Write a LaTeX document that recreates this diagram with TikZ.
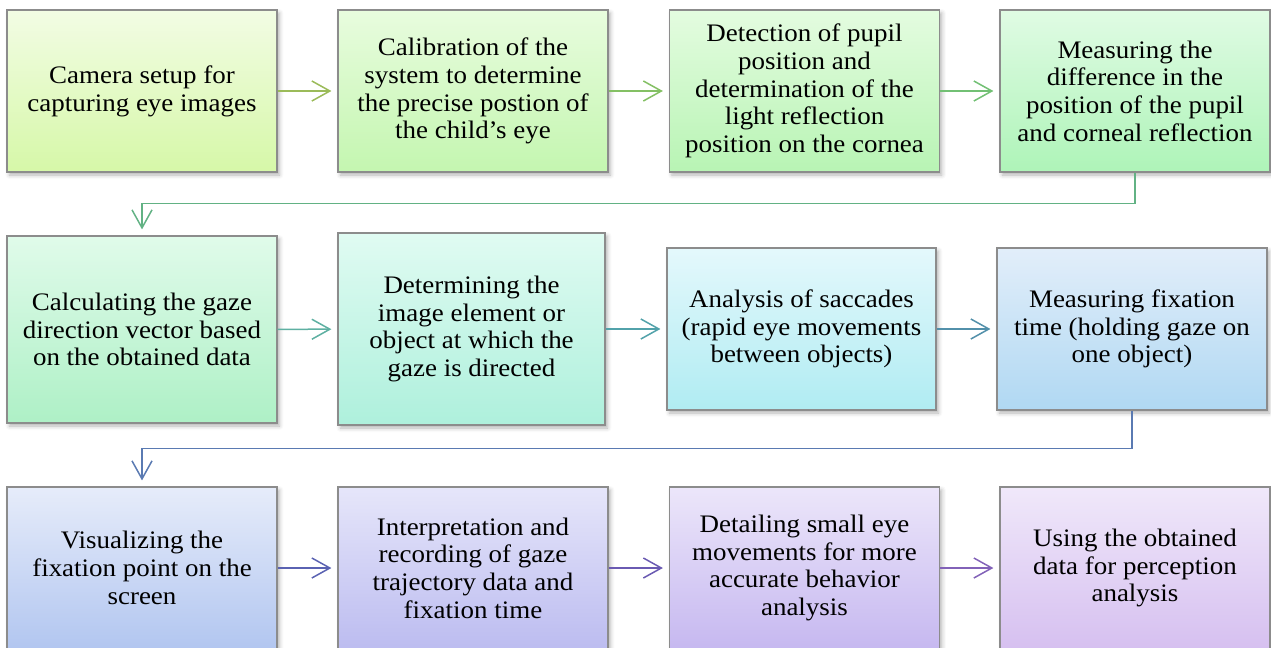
\documentclass[tikz,border=0pt]{standalone}
\usepackage{fontspec}
\setmainfont{Liberation Serif}[FakeStretch=1.07]
\usetikzlibrary{arrows.meta, shadows.blur}

\definecolor{boxline}{HTML}{8C8C8C}
% box gradients, top and bottom
\definecolor{aT}{HTML}{F2FCE4} \definecolor{aB}{HTML}{D6F8A8}
\definecolor{bT}{HTML}{E8FCDE} \definecolor{bB}{HTML}{C4F6B0}
\definecolor{cT}{HTML}{E4FCE0} \definecolor{cB}{HTML}{B8F4B4}
\definecolor{dT}{HTML}{E0FBE4} \definecolor{dB}{HTML}{AEF4B8}
\definecolor{eT}{HTML}{E0FBEA} \definecolor{eB}{HTML}{AEF0C6}
\definecolor{fT}{HTML}{E0FBF2} \definecolor{fB}{HTML}{AEF0DC}
\definecolor{gT}{HTML}{E4F8FC} \definecolor{gB}{HTML}{B0ECF2}
\definecolor{hT}{HTML}{E2EEFA} \definecolor{hB}{HTML}{B0D8F2}
\definecolor{iT}{HTML}{E6ECFA} \definecolor{iB}{HTML}{B2C6F0}
\definecolor{jT}{HTML}{E6E6FA} \definecolor{jB}{HTML}{BCBCF0}
\definecolor{kT}{HTML}{ECE6FA} \definecolor{kB}{HTML}{C6B8F0}
\definecolor{lT}{HTML}{F0E8FA} \definecolor{lB}{HTML}{D6C0F0}
% connector colours
\definecolor{arA}{HTML}{9BBB59} \definecolor{arB}{HTML}{84C064}
\definecolor{arC}{HTML}{72C074} \definecolor{arD}{HTML}{62B284}
\definecolor{arE}{HTML}{5EB0A2} \definecolor{arF}{HTML}{52A2AA}
\definecolor{arG}{HTML}{5290AA} \definecolor{arH}{HTML}{5A7AB2}
\definecolor{arI}{HTML}{5A62B2} \definecolor{arJ}{HTML}{6A5AB2}
\definecolor{arK}{HTML}{8262B8}

\tikzset{
  procbox/.style 2 args={draw=boxline, line width=0.6pt, top color=#1, bottom color=#2,
    minimum width=135pt, minimum height=81pt, inner sep=0pt, align=center,
    font=\fontsize{12.6}{13.85}\selectfont,
    blur shadow={shadow xshift=1.2pt, shadow yshift=-1.5pt, shadow blur radius=2pt, shadow opacity=30}},
  flow/.style={->, line width=0.75pt, shorten >=3pt}
}

\begin{document}
\begin{tikzpicture}[x=0.5pt, y=-0.5pt, >={Straight Barb[length=9pt,width=10pt]}]
    \useasboundingbox (0,0) rectangle (1271,648);
    % first row
    \node (b1) at (142,91) [procbox={aT}{aB}] {Camera setup for\\capturing eye images};
    \node (b2) at (473,91) [procbox={bT}{bB}] {Calibration of the\\system to determine\\the precise postion of\\the child's eye};
    \node (b3) at (804.5,91) [procbox={cT}{cB}] {Detection of pupil\\position and\\determination of the\\light reflection\\position on the cornea};
    \node (b4) at (1135,91) [procbox={dT}{dB}] {Measuring the\\difference in the\\position of the pupil\\and corneal reflection};
    % second row
    \node (b5) at (142,329.5) [procbox={eT}{eB}, minimum height=93.5pt] {Calculating the gaze\\direction vector based\\on the obtained data};
    \node (b6) at (471.5,329) [procbox={fT}{fB}, minimum width=133.5pt, minimum height=96pt] {Determining the\\image element or\\object at which the\\gaze is directed};
    \node (b7) at (801.5,329) [procbox={gT}{gB}, minimum width=134.5pt] {Analysis of saccades\\(rapid eye movements\\between objects)};
    \node (b8) at (1132,329) [procbox={hT}{hB}] {Measuring fixation\\time (holding gaze on\\one object)};
    % third row
    \node (b9) at (142,568) [procbox={iT}{iB}] {Visualizing the\\fixation point on the\\screen};
    \node (b10) at (473,568) [procbox={jT}{jB}] {Interpretation and\\recording of gaze\\trajectory data and\\fixation time};
    \node (b11) at (804.5,568) [procbox={kT}{kB}] {Detailing small eye\\movements for more\\accurate behavior\\analysis};
    \node (b12) at (1135,568) [procbox={lT}{lB}] {Using the obtained\\data for perception\\analysis};
    % connectors
    \draw [flow, draw=arA] (b1) -- (b2);
    \draw [flow, draw=arB] (b2) -- (b3);
    \draw [flow, draw=arC] (b3) -- (b4);
    \draw [flow, draw=arD] (b4.south) -- ++(0,31) -| (b5.north);
    \draw [flow, draw=arE] (b5) -- (b6);
    \draw [flow, draw=arF] (b6) -- (b7);
    \draw [flow, draw=arG] (b7) -- (b8);
    \draw [flow, draw=arH] (b8.south) -- ++(0,38) -| (b9.north);
    \draw [flow, draw=arI] (b9) -- (b10);
    \draw [flow, draw=arJ] (b10) -- (b11);
    \draw [flow, draw=arK] (b11) -- (b12);
\end{tikzpicture}
\end{document}
